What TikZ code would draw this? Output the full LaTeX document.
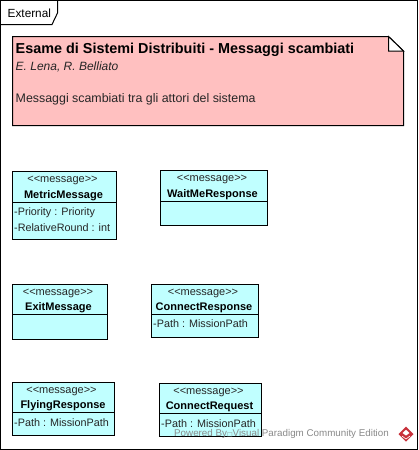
\documentclass[tikz,border=0pt]{standalone}
\usepackage{fontspec}
\setmainfont{Liberation Sans}
\newfontfamily\boxfont{DejaVu Sans}
\definecolor{msgfill}{HTML}{C0FFFF}
\definecolor{notefill}{HTML}{FFC0C0}
\definecolor{wm}{HTML}{8A8A8A}
\definecolor{logored}{HTML}{C8303A}
\tikzset{
  msgbox/.style={draw=black,fill=msgfill,line width=1pt,inner sep=0pt},
  stereo/.style={inner sep=0pt,anchor=base,font=\fontsize{11}{13}\selectfont,text=black!85},
  msgname/.style={inner sep=0pt,anchor=base,font=\fontsize{11}{13}\selectfont\bfseries,text=black},
  attr/.style={inner sep=0pt,anchor=base west,font=\fontsize{10.8}{13}\selectfont,text=black!85},
  divider/.style={draw=black,line width=1pt},
  notetext/.style={inner sep=0pt,anchor=base west,text=black}
}
\begin{document}
\begin{tikzpicture}[x=1pt,y=-1pt]
\useasboundingbox (0,0) rectangle (418,450);
\fill[white] (0,0) rectangle (418,450);
% frame
\coordinate (fa) at (0.5,0.5);
\coordinate (fb) at (417.3,449.3);
\draw[line width=1pt] (fa) rectangle (fb);
\coordinate (t1) at (57.5,0.5);
\coordinate (t2) at (57.5,13);
\coordinate (t3) at (52,24.5);
\coordinate (t4) at (0.5,24.5);
\draw[line width=1pt] (t1) -- (t2) -- (t3) -- (t4);
\node[inner sep=0pt,anchor=base west,font=\fontsize{11.8}{13}\selectfont] (tab) at (7.5,17) {External};
% note
\coordinate (n1) at (12.5,36.5);
\coordinate (n2) at (388.5,36.5);
\coordinate (n3) at (403.5,51);
\coordinate (n4) at (403.5,125.5);
\coordinate (n5) at (12.5,125.5);
\coordinate (n6) at (388.5,51);
\draw[line width=1pt,fill=notefill] (n1) -- (n2) -- (n3) -- (n4) -- (n5) -- cycle;
\draw[line width=1pt,fill=white] (n2) -- (n6) -- (n3) -- cycle;
\node[notetext,font=\fontsize{14.4}{16}\selectfont\bfseries] (title) at (15.5,53.5) {Esame di Sistemi Distribuiti - Messaggi scambiati};
\node[notetext,font=\fontsize{12}{14}\selectfont\itshape,text=black!85] (authors) at (15.5,70) {E. Lena, R. Belliato};
\node[notetext,font=\fontsize{12.4}{14}\selectfont,text=black!85] (desc) at (15.5,102) {Messaggi scambiati tra gli attori del sistema};
% MetricMessage
\node[msgbox,minimum width=104pt,minimum height=67.5pt] (metric) at (64.5,205.25) {};
\draw[divider] (metric.west |- 0,202) -- (metric.east |- 0,202);
\node[stereo] (metricS) at (62.5,182.5) {<{}<message>{}>};
\node[msgname] (metricN) at (63.5,198) {MetricMessage};
\node[attr] (metricA) at (14,215) {-Priority : Priority};
\node[attr] (metricB) at (14,231) {-RelativeRound : int};
% WaitMeResponse
\node[msgbox,minimum width=107pt,minimum height=55pt] (wait) at (214,198) {};
\draw[divider] (wait.west |- 0,201) -- (wait.east |- 0,201);
\node[stereo] (waitS) at (212,181.3) {<{}<message>{}>};
\node[msgname] (waitN) at (212.5,197) {WaitMeResponse};
% ExitMessage
\node[msgbox,minimum width=95pt,minimum height=54.5pt] (exit) at (60,311.75) {};
\draw[divider] (exit.west |- 0,314.5) -- (exit.east |- 0,314.5);
\node[stereo] (exitS) at (58,295.5) {<{}<message>{}>};
\node[msgname] (exitN) at (58.5,310.5) {ExitMessage};
% ConnectResponse
\node[msgbox,minimum width=106.5pt,minimum height=53.5pt] (cresp) at (204.75,310.75) {};
\draw[divider] (cresp.west |- 0,314.5) -- (cresp.east |- 0,314.5);
\node[stereo] (crespS) at (203,295.5) {<{}<message>{}>};
\node[msgname] (crespN) at (204,310.5) {ConnectResponse};
\node[attr] (crespA) at (153,327.5) {-Path : MissionPath};
% FlyingResponse
\node[msgbox,minimum width=102pt,minimum height=53pt] (fly) at (63.5,409) {};
\draw[divider] (fly.west |- 0,412.5) -- (fly.east |- 0,412.5);
\node[stereo] (flyS) at (61.5,393.5) {<{}<message>{}>};
\node[msgname] (flyN) at (63,408.5) {FlyingResponse};
\node[attr] (flyA) at (14,426) {-Path : MissionPath};
% ConnectRequest
\node[msgbox,minimum width=102pt,minimum height=53pt] (creq) at (210.5,410) {};
\draw[divider] (creq.west |- 0,413.5) -- (creq.east |- 0,413.5);
\node[stereo] (creqS) at (208.5,394.5) {<{}<message>{}>};
\node[msgname] (creqN) at (209.5,409.5) {ConnectRequest};
\node[attr] (creqA) at (161,427) {-Path : MissionPath};
% watermark
\node[inner sep=0pt,anchor=base west,font=\fontsize{9.8}{12}\selectfont,text=wm] (wmark) at (174,436.7) {Powered By{\boxfont\fontsize{6}{7}\selectfont □}Visual Paradigm Community Edition};
\coordinate (l1) at (406,426.5);
\coordinate (l2) at (413.5,434);
\coordinate (l3) at (406,441.5);
\coordinate (l4) at (398.5,434);
\fill[logored] (l1) -- (l2) -- (l3) -- (l4) -- cycle;
\coordinate (l5) at (402.5,433);
\coordinate (l6) at (406,429.8);
\coordinate (l7) at (409.5,433);
\coordinate (l8) at (406,435.5);
\fill[white] (l5) -- (l6) -- (l7) -- (l8) -- cycle;
\draw[white,line width=0.6pt] (402,436) -- (406,439) -- (410,436);
\end{tikzpicture}
\end{document}
